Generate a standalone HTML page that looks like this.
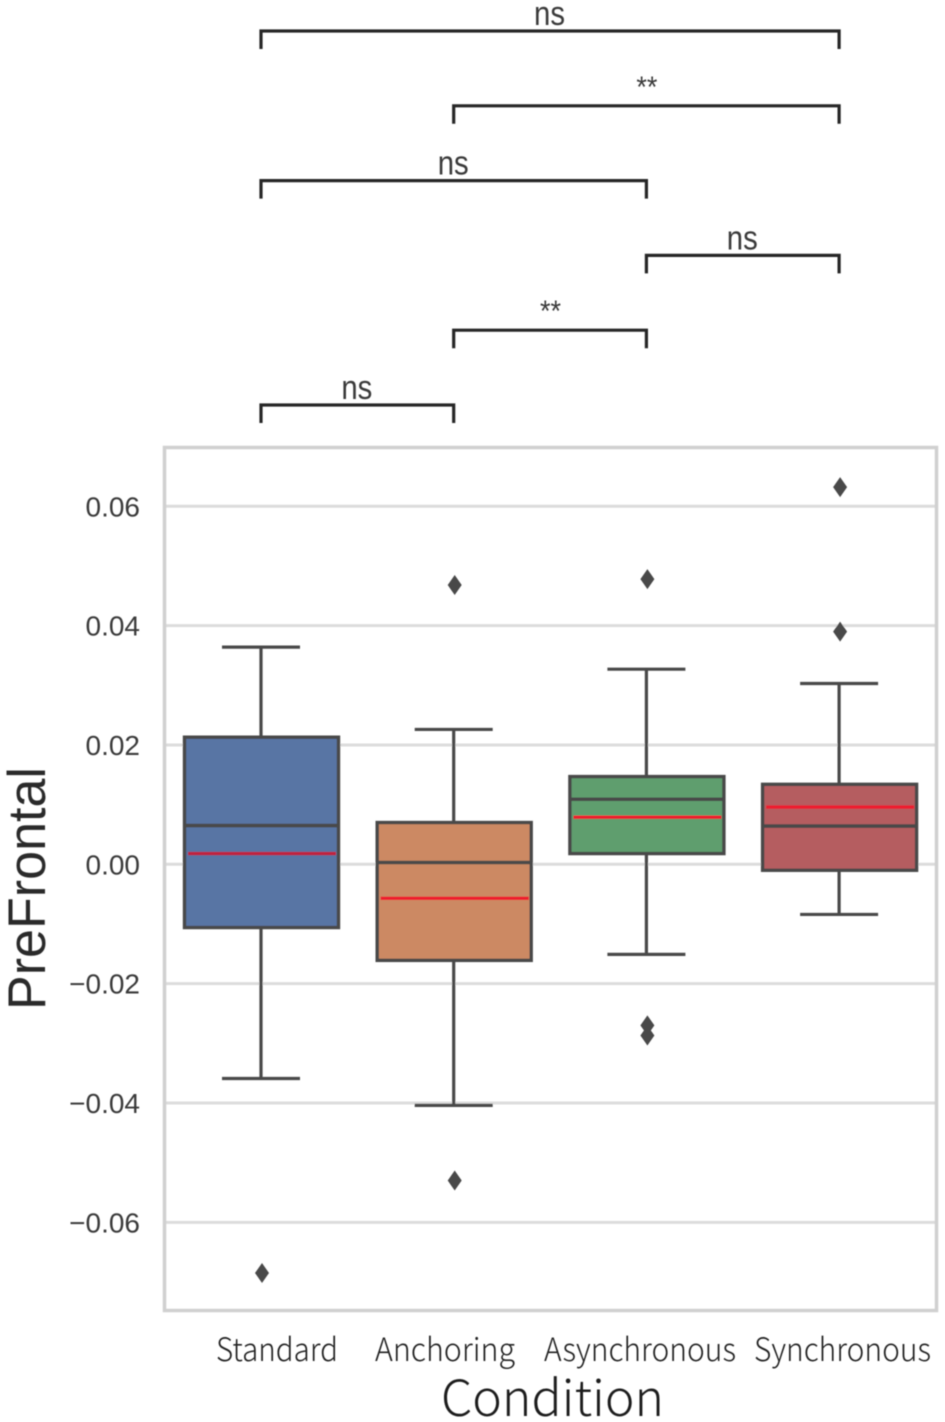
<!DOCTYPE html>
<html lang="en">
<head>
<meta charset="utf-8">
<title>PreFrontal by Condition</title>
<style>
html,body{margin:0;padding:0;background:#fff;width:945px;height:1422px;overflow:hidden}
svg{display:block}
.tick{font-family:"Liberation Sans",sans-serif;font-size:28px;fill:#3a3a3a}
.cat{font-family:"Noto Sans CJK SC","Liberation Sans",sans-serif;font-weight:300;font-size:32px;fill:#222}
.sig{font-family:"Liberation Sans",sans-serif;fill:#3a3a3a}
</style>
</head>
<body>
<svg id="chart" xmlns="http://www.w3.org/2000/svg" width="945" height="1422" viewBox="0 0 945 1422">
  <defs><filter id="soft" x="-5%" y="-5%" width="110%" height="110%"><feGaussianBlur stdDeviation="0.6"/></filter></defs>
  <rect width="945" height="1422" fill="#ffffff"/>
  <g id="root" filter="url(#soft)"></g>
</svg>
<script>
const categories = ["Standard", "Anchoring", "Asynchronous", "Synchronous"];
const whiskerHigh = [0.0364, 0.0226, 0.0327, 0.0303];
const quartile3 = [0.0213, 0.0070, 0.0147, 0.0134];
const medians = [0.0065, 0.0003, 0.0109, 0.0064];
const means = [0.0018, -0.0057, 0.0079, 0.0096];
const quartile1 = [-0.0106, -0.0161, 0.0018, -0.0010];
const whiskerLow = [-0.0359, -0.0404, -0.0151, -0.0084];
const outliers = [[-0.0685], [0.0468, -0.0530], [0.0478, -0.0270, -0.0287], [0.0632, 0.0390]];
const yTicks = [0.06, 0.04, 0.02, 0, -0.02, -0.04, -0.06];
const yTickLabels = ["0.06", "0.04", "0.02", "0.00", "\u22120.02", "\u22120.04", "\u22120.06"];
const sigFrom = [0, 1, 0, 2, 1, 0];
const sigTo = [3, 3, 2, 3, 2, 1];
const sigLabels = ["ns", "**", "ns", "ns", "**", "ns"];

const fills = ["#5875a4", "#cc8963", "#5f9e6e", "#b55d60"];
const dark = "#4a4a4a";
const NS = "http://www.w3.org/2000/svg";
const root = document.getElementById("root");
const xScale = i => 261 + i * 192.7;
const yScale = v => 864.3 - v * 5967;
const bracketY = i => 31 + i * 74.8;

function make(tag, attrs, parent) {
  const el = document.createElementNS(NS, tag);
  for (const k in attrs) el.setAttribute(k, attrs[k]);
  (parent || root).appendChild(el);
  return el;
}

// gridlines and tick labels
yTicks.forEach((t, i) => {
  const grid = make("line", {x1: 165, x2: 936, y1: yScale(t), y2: yScale(t), stroke: "#dcdcdc", "stroke-width": 3});
  
  
  const label = make("text", {x: 140, y: yScale(t) + 10, "text-anchor": "end", class: "tick"});
  label.textContent = yTickLabels[i];
  
  
});

// panel frame
const frame = make("rect", {x: 164.5, y: 447.5, width: 772, height: 863, fill: "none", stroke: "#d0d0d0", "stroke-width": 3.5});



// boxes
categories.forEach((c, i) => {
  const cx = xScale(i);
  const g = make("g", {});
  
  

  const whiskerUp = make("line", {x1: cx, x2: cx, y1: yScale(whiskerHigh[i]), y2: yScale(quartile3[i]), stroke: dark, "stroke-width": 3.2}, g);
  
  
  const whiskerDown = make("line", {x1: cx, x2: cx, y1: yScale(quartile1[i]), y2: yScale(whiskerLow[i]), stroke: dark, "stroke-width": 3.2}, g);
  
  
  const capUp = make("line", {x1: cx - 39, x2: cx + 39, y1: yScale(whiskerHigh[i]), y2: yScale(whiskerHigh[i]), stroke: dark, "stroke-width": 3.2}, g);
  
  
  const capDown = make("line", {x1: cx - 39, x2: cx + 39, y1: yScale(whiskerLow[i]), y2: yScale(whiskerLow[i]), stroke: dark, "stroke-width": 3.2}, g);
  
  

  const box = make("rect", {x: cx - 76.5, width: 154, y: yScale(quartile3[i]), height: yScale(quartile1[i]) - yScale(quartile3[i]), fill: fills[i], stroke: dark, "stroke-width": 3.4}, g);
  
  
  const med = make("line", {x1: cx - 77, x2: cx + 77, y1: yScale(medians[i]), y2: yScale(medians[i]), stroke: dark, "stroke-width": 3.6}, g);
  
  
  const mean = make("line", {x1: cx - 73, x2: cx + 75, y1: yScale(means[i]), y2: yScale(means[i]), stroke: i === 0 ? "#c0243c" : "#ee1c2e", "stroke-width": 3.4}, g);
  
  

  outliers[i].forEach(v => {
    const py = yScale(v), px = cx + 1;
    const d = make("polygon", {points: `${px},${py - 10} ${px + 7},${py} ${px},${py + 10} ${px - 7},${py}`, fill: dark}, g);
    
    
  });
});

// category labels sit off-centre in the reference
const catLayout = {Standard: [216, 122], Anchoring: [375, 140], Asynchronous: [544, 192], Synchronous: [754, 177]};
categories.forEach(c => {
  const box = catLayout[c] || [0, 100];
  const t = make("text", {x: box[0], y: 1361, class: "cat", textLength: box[1], lengthAdjust: "spacingAndGlyphs"});
  t.textContent = c;
  
  
});

// significance brackets
sigLabels.forEach((s, i) => {
  const x1 = xScale(sigFrom[i]), x2 = xScale(sigTo[i]), y = bracketY(i);
  const p = make("path", {d: `M${x1} ${y + 18}V${y}H${x2}V${y + 18}`, fill: "none", stroke: "#262626", "stroke-width": 3.2});
  
  
  const mid = (x1 + x2) / 2;
  const isStar = s === "**";
  const t = make("text", {x: mid - (isStar ? 10 : 16), y: y + (isStar ? -9 : -6), class: "sig", "font-size": isStar ? 30 : 34, textLength: isStar ? 21 : 31, lengthAdjust: "spacingAndGlyphs"});
  t.textContent = s;
  
  
});

// axis titles
const yTitle = make("text", {x: 0, y: 0, transform: "translate(45,1010) rotate(-90)", "font-family": '"Liberation Sans",sans-serif', "font-size": 53, fill: "#2a2a2a", textLength: 243, lengthAdjust: "spacingAndGlyphs"});
yTitle.textContent = "PreFrontal";


const xTitle = make("text", {x: 441, y: 1416, "font-family": '"Noto Sans CJK SC","Liberation Sans",sans-serif', "font-weight": 300, "font-size": 50, fill: "#1c1c1c", textLength: 223, lengthAdjust: "spacingAndGlyphs"});
xTitle.textContent = "Condition";


</script>
</body>
</html>
